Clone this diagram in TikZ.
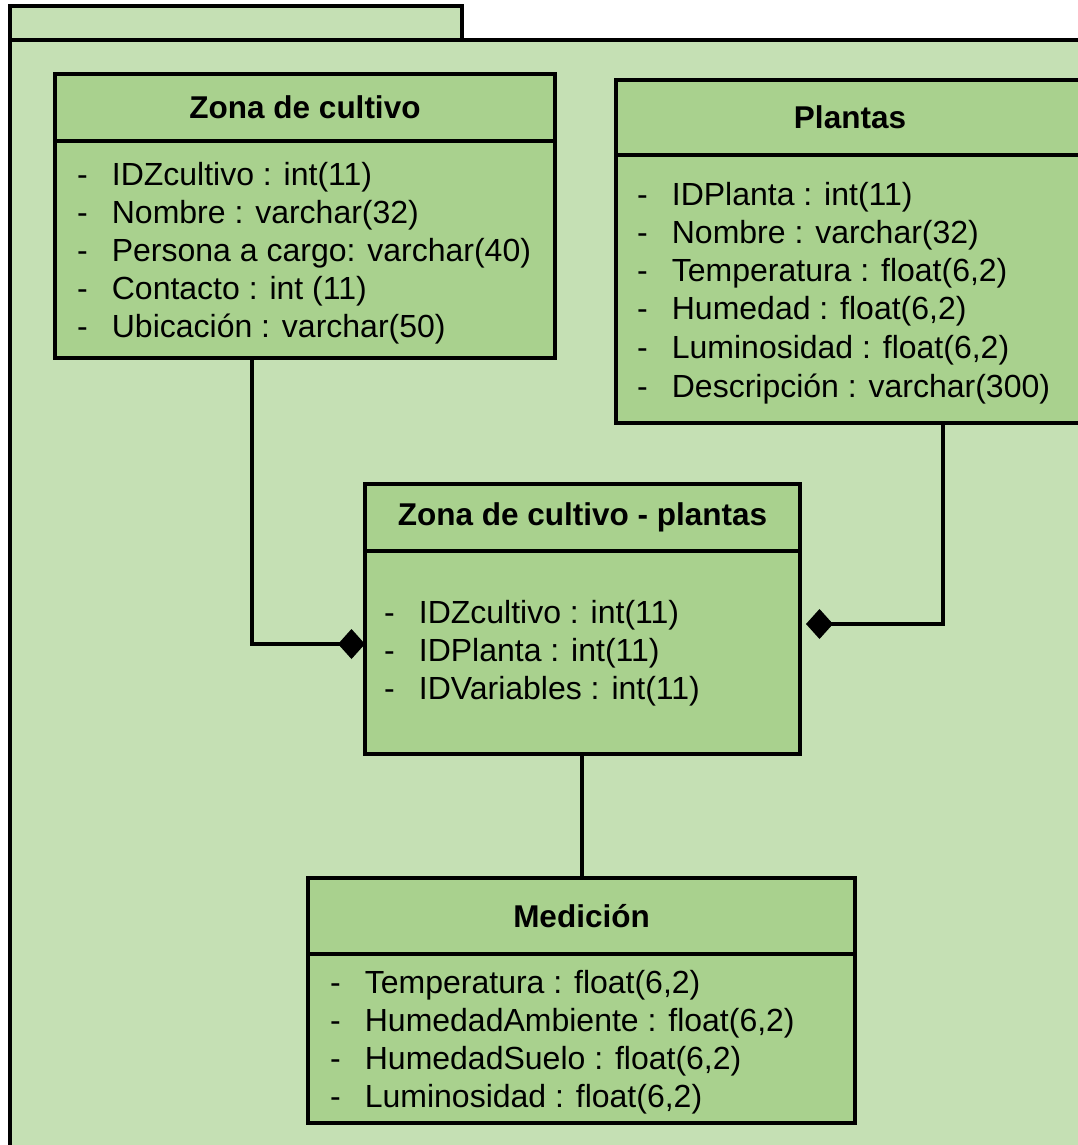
\documentclass[tikz,border=0pt]{standalone}
\usepackage{fontspec}
\setmainfont{Liberation Sans}
\usetikzlibrary{arrows.meta,calc}
\definecolor{pkgfill}{HTML}{C5E0B4}
\definecolor{boxfill}{HTML}{A9D18E}
\tikzset{
  pkg/.style={draw=black, fill=pkgfill, line width=3.5pt},
  hdr/.style={draw=black, fill=boxfill, line width=3.5pt, inner sep=0pt, outer sep=0pt,
              font=\fontsize{31.5}{36}\selectfont\bfseries},
  bodybox/.style={draw=black, fill=boxfill, line width=3.5pt},
  attr/.style={anchor=west, inner sep=0pt, font=\fontsize{32}{36}\selectfont},
  conn/.style={draw=black, line width=4.5pt},
  compo/.style={-{Diamond[length=27pt,width=30pt,line width=0pt]}},
}
\newcommand{\attrline}[1]{-\hspace{24pt}#1}
\begin{document}
\begin{tikzpicture}[x=1pt, y=-1pt]
\useasboundingbox (0,0) rectangle (1078,1145);

% package frame with its tab
\path[pkg] (10,6) rectangle (462,40);
\path[pkg] (10,40) rectangle (1100,1170);

% Zona de cultivo
\path[bodybox] (55,141) rectangle (555,358);
\node[hdr, minimum width=500pt, minimum height=67pt, anchor=north west] (zch) at (55,74) {Zona de cultivo};
\coordinate (zcb) at (55,358);
\node[attr] (zc1) at (77,177) {\attrline{IDZcultivo : int(11)}};
\node[attr] (zc2) at (77,215) {\attrline{Nombre : varchar(32)}};
\node[attr] (zc3) at (77,253) {\attrline{Persona a cargo: varchar(40)}};
\node[attr] (zc4) at (77,291) {\attrline{Contacto : int (11)}};
\node[attr] (zc5) at (77,329) {\attrline{Ubicación : varchar(50)}};

% Plantas
\path[bodybox] (616,155) rectangle (1084,423);
\node[hdr, minimum width=468pt, minimum height=75pt, anchor=north west] (plh) at (616,80) {Plantas};
\coordinate (plb) at (943,423);
\node[attr] (pl1) at (637,197) {\attrline{IDPlanta : int(11)}};
\node[attr] (pl2) at (637,235) {\attrline{Nombre : varchar(32)}};
\node[attr] (pl3) at (637,273) {\attrline{Temperatura : float(6,2)}};
\node[attr] (pl4) at (637,311) {\attrline{Humedad : float(6,2)}};
\node[attr] (pl5) at (637,350) {\attrline{Luminosidad : float(6,2)}};
\node[attr] (pl6) at (637,389) {\attrline{Descripción : varchar(300)}};

% Zona de cultivo - plantas
\path[bodybox] (365,551) rectangle (800,754);
\node[hdr, minimum width=435pt, minimum height=67pt, anchor=north west] (zph) at (365,484) {Zona de cultivo - plantas};
\coordinate (zpl) at (365,644);
\coordinate (zpr) at (806,624);
\coordinate (zpb) at (582,754);
\node[attr] (zp1) at (384,615) {\attrline{IDZcultivo : int(11)}};
\node[attr] (zp2) at (384,653) {\attrline{IDPlanta : int(11)}};
\node[attr] (zp3) at (384,691) {\attrline{IDVariables : int(11)}};

% Medición
\path[bodybox] (308,954) rectangle (855,1123);
\node[hdr, minimum width=547pt, minimum height=76pt, anchor=north west] (meh) at (308,878) {Medición};
\node[attr] (me1) at (330,985) {\attrline{Temperatura : float(6,2)}};
\node[attr] (me2) at (330,1023) {\attrline{HumedadAmbiente : float(6,2)}};
\node[attr] (me3) at (330,1061) {\attrline{HumedadSuelo : float(6,2)}};
\node[attr] (me4) at (330,1099) {\attrline{Luminosidad : float(6,2)}};

% connectors
\draw[conn, compo] (zcb -| 252,0) |- (zpl);
\draw[conn, compo] (plb) |- (zpr);
\draw[conn] (zpb) -- (meh.north -| zpb);
\end{tikzpicture}
\end{document}
